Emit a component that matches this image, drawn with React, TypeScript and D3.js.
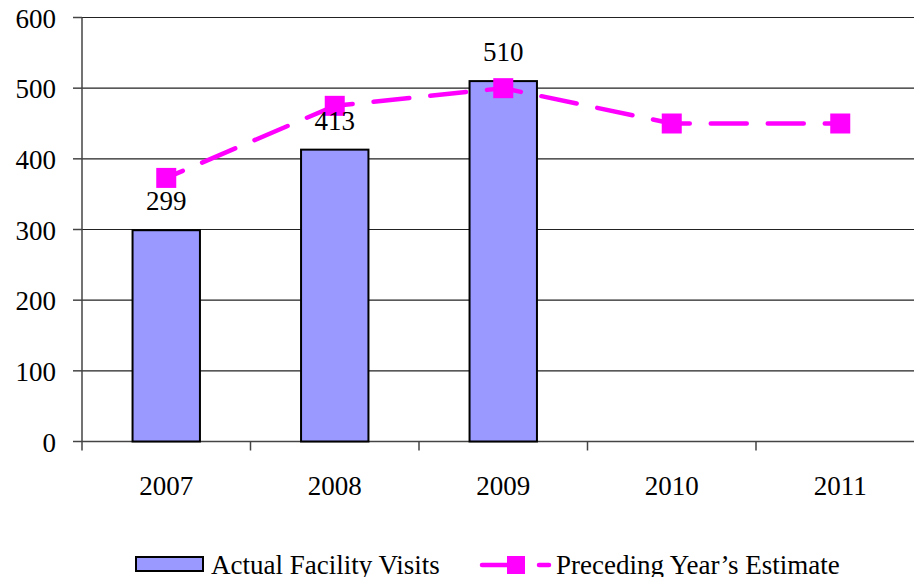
import React, { useEffect, useRef } from 'react';
import * as d3 from 'd3';

const YEARS = ['2007', '2008', '2009', '2010', '2011'];
const ACTUAL_VISITS: (number | null)[] = [299, 413, 510, null, null];
const PRECEDING_ESTIMATE = [373, 475, 500, 450, 450];
const Y_TICKS = [0, 100, 200, 300, 400, 500, 600];

const WIDTH = 914;
const HEIGHT = 577;
const FONT = '"Liberation Serif", "Times New Roman", serif';
const BAR_FILL = '#9999ff';
const LINE_COLOR = '#ff00ff';

const App: React.FC = () => {
  const svgRef = useRef<SVGSVGElement>(null);

  useEffect(() => {
    if (!svgRef.current) return;
    const svg = d3.select(svgRef.current);
    svg.selectAll('*').remove();

    const left = 82;
    const right = 924.5;
    const top = 17.5;
    const bottom = 441.5;

    const x = d3.scaleBand<string>().domain(YEARS).range([left, right]).padding(0);
    const y = d3.scaleLinear().domain([0, 600]).range([bottom, top]);
    const bw = x.bandwidth();

    // gridlines
    svg.append('g')
      .selectAll('line')
      .data(Y_TICKS.filter(t => t > 0))
      .join('line')
      .attr('x1', left)
      .attr('x2', WIDTH)
      .attr('y1', d => y(d))
      .attr('y2', d => y(d))
      .attr('stroke', '#222')
      .attr('stroke-width', 1.2);

    // y axis
    const yAxis = svg.append('g');
    yAxis.append('line')
      .attr('x1', left).attr('x2', left)
      .attr('y1', top).attr('y2', bottom + 9)
      .attr('stroke', '#444').attr('stroke-width', 1.5);
    Y_TICKS.forEach(t => {
      yAxis.append('line')
        .attr('x1', left - 9).attr('x2', left)
        .attr('y1', y(t)).attr('y2', y(t))
        .attr('stroke', '#444').attr('stroke-width', 1.5);
      yAxis.append('text')
        .attr('x', 56)
        .attr('y', y(t) + 10)
        .attr('text-anchor', 'end')
        .attr('font-family', FONT)
        .attr('font-size', 27)
        .attr('fill', '#000')
        .text(t);
    });

    // x axis
    const xAxis = svg.append('g');
    xAxis.append('line')
      .attr('x1', left).attr('x2', WIDTH)
      .attr('y1', bottom).attr('y2', bottom)
      .attr('stroke', '#444').attr('stroke-width', 1.5);
    YEARS.forEach(yr => {
      const x0 = x(yr)!;
      xAxis.append('line')
        .attr('x1', x0 + bw).attr('x2', x0 + bw)
        .attr('y1', bottom).attr('y2', bottom + 9)
        .attr('stroke', '#444').attr('stroke-width', 1.5);
      xAxis.append('text')
        .attr('x', x0 + bw / 2)
        .attr('y', 495)
        .attr('text-anchor', 'middle')
        .attr('font-family', FONT)
        .attr('font-size', 27)
        .attr('fill', '#000')
        .text(yr);
    });

    // bars
    const barData = YEARS.map((yr, i) => ({ yr, v: ACTUAL_VISITS[i] })).filter(d => d.v != null) as { yr: string; v: number }[];
    svg.append('g')
      .selectAll('rect')
      .data(barData)
      .join('rect')
      .attr('x', d => x(d.yr)! + bw * 0.3)
      .attr('y', d => y(d.v))
      .attr('width', bw * 0.4)
      .attr('height', d => bottom - y(d.v))
      .attr('fill', BAR_FILL)
      .attr('stroke', '#000')
      .attr('stroke-width', 2);

    // line: dash pattern restarts at every point, like the source
    const pts = YEARS.map((yr, i) => ({ x: x(yr)! + bw / 2, y: y(PRECEDING_ESTIMATE[i]) }));
    const line = d3.line<{ x: number; y: number }>().x(d => d.x).y(d => d.y);
    const segs = d3.pairs(pts);
    svg.append('g')
      .selectAll('path')
      .data(segs)
      .join('path')
      .attr('d', d => line(d))
      .attr('fill', 'none')
      .attr('stroke', LINE_COLOR)
      .attr('stroke-width', 4.5)
      .attr('stroke-linecap', 'round')
      .attr('stroke-dasharray', '36 21')
      .attr('stroke-dashoffset', 18);

    svg.append('g')
      .selectAll('rect')
      .data(pts)
      .join('rect')
      .attr('x', d => d.x - 10)
      .attr('y', d => d.y - 10)
      .attr('width', 20)
      .attr('height', 20)
      .attr('fill', LINE_COLOR);

    // bar labels
    svg.append('g')
      .selectAll('text')
      .data(barData)
      .join('text')
      .attr('x', d => x(d.yr)! + bw / 2)
      .attr('y', d => y(d.v) - 20)
      .attr('text-anchor', 'middle')
      .attr('font-family', FONT)
      .attr('font-size', 27)
      .attr('fill', '#000')
      .text(d => d.v);

    // legend
    const ly = 565;
    const lg = svg.append('g');
    lg.append('rect')
      .attr('x', 136).attr('y', ly - 8)
      .attr('width', 67).attr('height', 14)
      .attr('fill', BAR_FILL).attr('stroke', '#000').attr('stroke-width', 2);
    lg.append('text')
      .attr('x', 211).attr('y', ly + 9)
      .attr('font-family', FONT).attr('font-size', 27).attr('fill', '#000')
      .text('Actual Facility Visits');
    lg.append('line')
      .attr('x1', 482).attr('x2', 510).attr('y1', ly).attr('y2', ly)
      .attr('stroke', LINE_COLOR).attr('stroke-width', 4.5).attr('stroke-linecap', 'round');
    lg.append('line')
      .attr('x1', 539).attr('x2', 549).attr('y1', ly).attr('y2', ly)
      .attr('stroke', LINE_COLOR).attr('stroke-width', 4.5).attr('stroke-linecap', 'round');
    lg.append('rect')
      .attr('x', 507).attr('y', ly - 9)
      .attr('width', 18).attr('height', 18)
      .attr('fill', LINE_COLOR);
    lg.append('text')
      .attr('x', 556).attr('y', ly + 9)
      .attr('font-family', FONT).attr('font-size', 27).attr('fill', '#000')
      .text('Preceding Year\u2019s Estimate');
  }, []);

  return (
    <div style={{ position: 'absolute', left: 0, top: 0, width: WIDTH, height: HEIGHT, background: '#fff' }}>
      <svg ref={svgRef} width={WIDTH} height={HEIGHT} style={{ display: 'block' }} />
    </div>
  );
};

export default App;
